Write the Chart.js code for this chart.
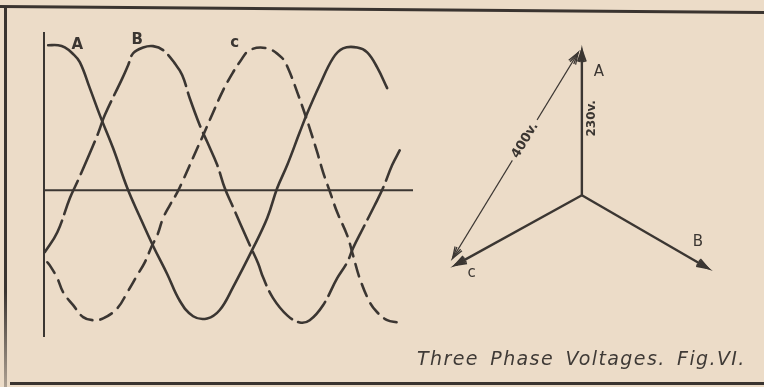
<!DOCTYPE html>
<html>
<head>
<meta charset="utf-8">
<script src="https://cdn.jsdelivr.net/npm/chart.js@4.4.1/dist/chart.umd.min.js"></script>
<style>
  html, body { margin: 0; padding: 0; }
  body { width: 764px; height: 387px; background: #ecdcc8; position: relative; overflow: hidden; }
  canvas { position: absolute; }
  #waves { left: 0; top: 0; }
  #phasors { left: 430px; top: 0; }
  .rule { position: absolute; background: #3a3430; }
  #top-rule { left: 0; top: 5px; width: 768px; height: 3px; transform-origin: 0 0; transform: rotate(0.45deg); }
  #left-rule { left: 4px; top: 6px; width: 3px; height: 381px; background: linear-gradient(#3a3430 75%, rgba(58, 52, 48, 0.35)); }
  #bottom-rule { left: 10px; top: 382px; width: 754px; height: 3px; }
  #caption { position: absolute; left: 417px; top: 347px; font: italic 19px "DejaVu Sans"; letter-spacing: 1.4px; word-spacing: 4px; color: #3f3a36; white-space: nowrap; }
</style>
</head>
<body>
<div class="rule" id="top-rule"></div>
<div class="rule" id="left-rule"></div>
<div class="rule" id="bottom-rule"></div>
<canvas id="waves" width="430" height="387"></canvas>
<canvas id="phasors" width="334" height="340"></canvas>
<div id="caption">Three Phase Voltages. Fig.VI.</div>
<script>
const INK = "#3b3632";
const PAPER = "#ecdcc8";

// Wave diagram: electrical angle (degrees) against volts
const phaseAX = [5, 17, 25, 34, 43, 55, 67, 83, 100, 115, 131, 148, 163, 179, 196, 211, 227, 251, 268, 280, 292, 307, 316, 331, 347, 359, 376, 388, 400, 412];
const phaseAY = [328, 328, 323, 310, 290, 231, 170, 95, 5, -60, -126, -190, -250, -285, -290, -271, -219, -131, -63, 5, 57, 131, 174, 238, 299, 321, 323, 312, 278, 231];

const phaseBX = [1, 16, 31, 41, 64, 73, 94, 101, 107, 119, 131, 143, 157, 166, 175, 187, 196, 208, 217, 226, 247, 257, 263, 275, 292, 307, 319, 335, 352, 364, 371, 383, 397, 407, 418, 427];
const phaseBY = [-140, -95, -18, 23, 124, 170, 253, 283, 310, 323, 326, 317, 287, 260, 208, 147, 109, 57, 5, -34, -124, -165, -197, -244, -283, -299, -294, -260, -199, -163, -131, -86, -34, 5, 57, 90];

const phaseCX = [4, 7, 16, 23, 35, 47, 59, 71, 88, 100, 112, 121, 130, 136, 143, 151, 160, 167, 184, 191, 203, 215, 227, 235, 247, 268, 286, 293, 304, 311, 319, 328, 335, 343, 352, 364, 371, 379, 391, 400, 412, 424];
const phaseCY = [-163, -170, -199, -231, -260, -287, -294, -290, -267, -231, -192, -163, -124, -102, -63, -34, -5, 23, 95, 124, 176, 226, 267, 290, 317, 321, 299, 276, 222, 185, 140, 86, 41, -2, -50, -102, -147, -199, -253, -276, -294, -299];

const waveLabels = ["A", "B", "c"];
const waveLabelX = [40, 112, 229];
const waveLabelY = [328, 339, 332];

// Phasor diagram, volts
const phasorNames = ["A", "B", "c"];
const phasorX = [0, 200, -201];
const phasorY = [230, -116, -111];
const phasorLabelX = [27, 184, -175];
const phasorLabelY = [195, -75, -124];

const lineVoltX = [-6, -205];
const lineVoltY = [226, -100];
const phaseVoltText = "230v.";
const lineVoltText = "400v.";

function points(xs, ys) {
  return xs.map((x, i) => ({ x: x, y: ys[i] }));
}

// draws the zero line and the upright axis through the origin
const crossAxes = {
  id: "crossAxes",
  beforeDatasetsDraw(chart) {
    const { ctx, chartArea, scales } = chart;
    const x0 = scales.x.getPixelForValue(0);
    const y0 = scales.y.getPixelForValue(0);
    ctx.save();
    ctx.strokeStyle = INK;
    ctx.lineWidth = 2;
    ctx.beginPath();
    ctx.moveTo(x0, chartArea.top);
    ctx.lineTo(x0, chartArea.bottom);
    ctx.moveTo(x0, y0);
    ctx.lineTo(chartArea.right, y0);
    ctx.stroke();
    ctx.restore();
  }
};

function makeNotes(items) {
  return {
    id: "notes",
    afterDatasetsDraw(chart) {
      const { ctx, scales } = chart;
      items.forEach(n => {
        ctx.save();
        ctx.translate(scales.x.getPixelForValue(n.x), scales.y.getPixelForValue(n.y));
        ctx.rotate((n.angle || 0) * Math.PI / 180);
        ctx.font = n.font;
        ctx.textAlign = "center";
        ctx.textBaseline = "middle";
        if (n.gap) {
          const w = ctx.measureText(n.text).width + 8;
          ctx.fillStyle = PAPER;
          ctx.fillRect(-w / 2, -6, w, 12);
        }
        ctx.fillStyle = INK;
        ctx.fillText(n.text, 0, 0);
        ctx.restore();
      });
    }
  };
}

function makeArrows(list) {
  function head(ctx, from, to) {
    const a = Math.atan2(to.y - from.y, to.x - from.x);
    [0.34, 0.18].forEach(spread => {
      ctx.beginPath();
      ctx.moveTo(to.x - 12 * Math.cos(a - spread), to.y - 12 * Math.sin(a - spread));
      ctx.lineTo(to.x, to.y);
      ctx.lineTo(to.x - 12 * Math.cos(a + spread), to.y - 12 * Math.sin(a + spread));
      ctx.stroke();
    });
  }
  return {
    id: "arrows",
    afterDatasetsDraw(chart) {
      const ctx = chart.ctx;
      list.forEach(item => {
        const pts = chart.getDatasetMeta(item.dataset).data;
        ctx.save();
        ctx.strokeStyle = INK;
        ctx.lineWidth = item.width;
        if (item.ends.includes("end")) head(ctx, pts[pts.length - 2], pts[pts.length - 1]);
        if (item.ends.includes("start")) head(ctx, pts[1], pts[0]);
        ctx.restore();
      });
    }
  };
}

const waveDash = [[], [36, 7], [13, 8]];
const waveData = [points(phaseAX, phaseAY), points(phaseBX, phaseBY), points(phaseCX, phaseCY)];

new Chart(document.getElementById("waves"), {
  type: "line",
  data: {
    datasets: waveData.map((d, i) => ({
      label: waveLabels[i],
      data: d,
      borderColor: INK,
      borderWidth: 2.6,
      borderDash: waveDash[i],
      borderCapStyle: "round",
      pointRadius: 0,
      tension: 0.4,
      fill: false
    }))
  },
  options: {
    responsive: false,
    animation: false,
    devicePixelRatio: 1,
    layout: { padding: { left: 44, right: 17, top: 32, bottom: 50 } },
    scales: {
      x: { type: "linear", min: 0, max: 443, display: false },
      y: { type: "linear", min: -332, max: 358, display: false }
    },
    plugins: { legend: { display: false }, tooltip: { enabled: false } }
  },
  plugins: [
    crossAxes,
    makeNotes(waveLabels.map((t, i) => ({
      text: t, x: waveLabelX[i], y: waveLabelY[i], font: "bold 15px 'DejaVu Sans'"
    })))
  ]
});

const phasorSets = phasorNames.map((n, i) => ({
  label: n,
  data: [{ x: 0, y: 0 }, { x: phasorX[i], y: phasorY[i] }],
  showLine: true,
  borderColor: INK,
  borderWidth: 2.4,
  pointRadius: 0
}));
phasorSets.push({
  label: "line",
  data: points(lineVoltX, lineVoltY),
  showLine: true,
  borderColor: INK,
  borderWidth: 1.3,
  pointRadius: 0
});

const phasorNotes = phasorNames.map((t, i) => ({
  text: t, x: phasorLabelX[i], y: phasorLabelY[i], font: "15px 'DejaVu Sans'"
}));
phasorNotes.push({ text: phaseVoltText, x: 16, y: 122, angle: -90, font: "bold 12px 'DejaVu Sans'" });
phasorNotes.push({ text: lineVoltText, x: -90, y: 87, angle: -59, font: "bold 13px 'DejaVu Sans'", gap: true });

new Chart(document.getElementById("phasors"), {
  type: "scatter",
  data: { datasets: phasorSets },
  options: {
    responsive: false,
    animation: false,
    devicePixelRatio: 1,
    layout: { padding: { left: 10, right: 10, top: 20, bottom: 20 } },
    scales: {
      x: { type: "linear", min: -225, max: 273, display: false },
      y: { type: "linear", min: -198, max: 278, display: false }
    },
    plugins: { legend: { display: false }, tooltip: { enabled: false } }
  },
  plugins: [
    makeArrows([
      { dataset: 0, ends: ["end"], width: 2 },
      { dataset: 1, ends: ["end"], width: 2 },
      { dataset: 2, ends: ["end"], width: 2 },
      { dataset: 3, ends: ["start", "end"], width: 1.3 }
    ]),
    makeNotes(phasorNotes)
  ]
});
</script>
</body>
</html>
